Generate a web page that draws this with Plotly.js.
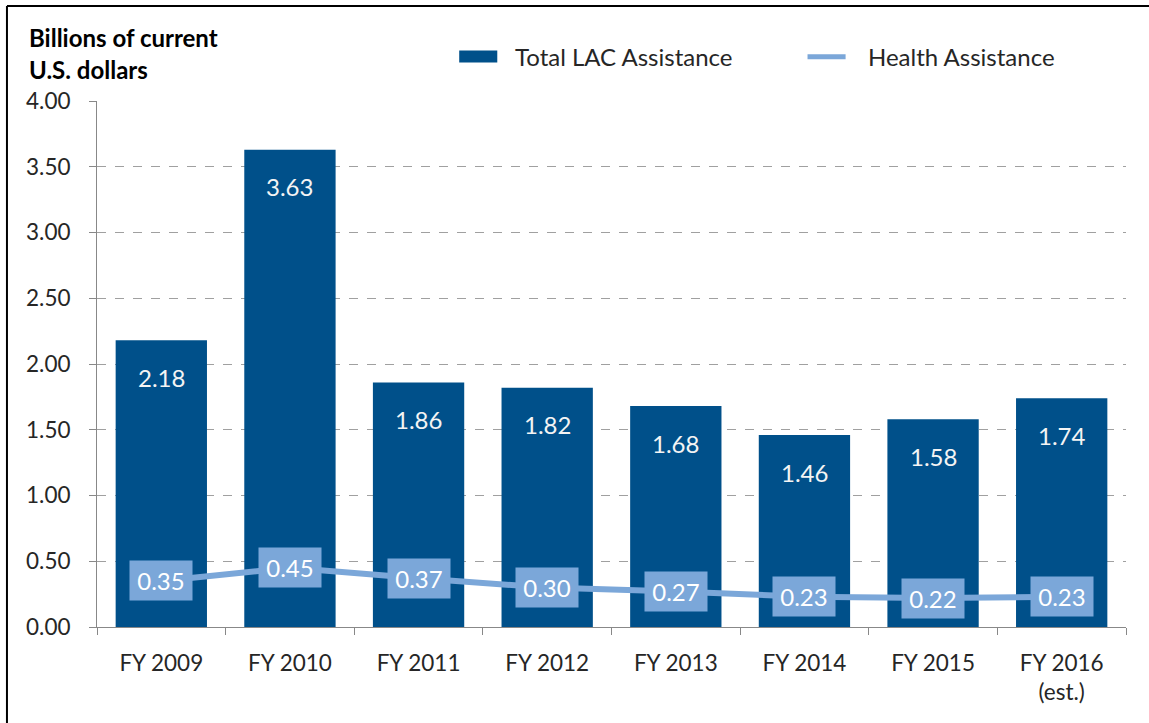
<!DOCTYPE html>
<html>
<head>
<meta charset="utf-8">
<script src="https://cdn.plot.ly/plotly-3.0.1.min.js"></script>
<style>
html,body{margin:0;padding:0;background:#fff;}
#chart{width:1149px;height:723px;}
</style>
</head>
<body>
<div id="chart"></div>
<script>
var categories = ["FY 2009", "FY 2010", "FY 2011", "FY 2012", "FY 2013", "FY 2014", "FY 2015", "FY 2016<br>(est.)"];
var totalLAC = [2.18, 3.63, 1.86, 1.82, 1.68, 1.46, 1.58, 1.74];
var health = [0.35, 0.45, 0.37, 0.30, 0.27, 0.23, 0.22, 0.23];
var yTicks = [0, 0.5, 1, 1.5, 2, 2.5, 3, 3.5, 4];
var yTickLabels = ["0.00", "0.50", "1.00", "1.50", "2.00", "2.50", "3.00", "3.50", "4.00"];

var FONT = "Lato, 'Open Sans', sans-serif";
var BAR = "#00508A";
var LINE = "#7BA7D9";

var traces = [
  {
    type: "bar", name: "Total LAC Assistance", x: categories, y: totalLAC,
    marker: {color: BAR}, hoverinfo: "skip", showlegend: false
  },
  {
    type: "scatter", mode: "lines", name: "Health Assistance", x: categories, y: health,
    line: {color: LINE, width: 6}, hoverinfo: "skip", showlegend: false
  }
];

var annotations = [];
categories.forEach(function (c, i) {
  annotations.push({
    x: c, y: totalLAC[i], xref: "x", yref: "y", text: totalLAC[i].toFixed(2),
    showarrow: false, yshift: -37, font: {family: FONT, size: 24, color: "#f4f4f4"}
  });
  annotations.push({
    x: c, y: health[i], xref: "x", yref: "y", text: health[i].toFixed(2),
    showarrow: false, bgcolor: LINE, borderpad: 5, width: 52,
    font: {family: FONT, size: 24, color: "#ffffff"}
  });
});

// y-axis title
annotations.push({
  xref: "paper", yref: "paper", x: -0.068, y: 1.12, xanchor: "left", yanchor: "middle",
  text: "<b>Billions of current</b>", showarrow: false, align: "left",
  font: {family: FONT, size: 24, color: "#000"}
});
annotations.push({
  xref: "paper", yref: "paper", x: -0.068, y: 1.059, xanchor: "left", yanchor: "middle",
  text: "<b>U.S. dollars</b>", showarrow: false, align: "left",
  font: {family: FONT, size: 24, color: "#000"}
});
// legend texts
annotations.push({
  xref: "paper", yref: "paper", x: 0.4045, y: 1.084, xanchor: "left", yanchor: "middle",
  text: "Total LAC Assistance", showarrow: false,
  font: {family: FONT, size: 24, color: "#262626"}
});
annotations.push({
  xref: "paper", yref: "paper", x: 0.7475, y: 1.084, xanchor: "left", yanchor: "middle",
  text: "Health Assistance", showarrow: false,
  font: {family: FONT, size: 24, color: "#262626"}
});

var shapes = [
  // legend swatches
  {type: "rect", xref: "paper", yref: "paper", x0: 0.352, x1: 0.389, y0: 1.073, y1: 1.096, fillcolor: BAR, line: {width: 0}},
  {type: "line", xref: "paper", yref: "paper", x0: 0.6905, x1: 0.7275, y0: 1.084, y1: 1.084, line: {color: LINE, width: 5}},
  // outer frame (top and left)
  {type: "line", xref: "paper", yref: "paper", x0: -0.0875, x1: 1.03, y0: 1.1806, y1: 1.1806, line: {color: "#000", width: 2}},
  {type: "line", xref: "paper", yref: "paper", x0: -0.0875, x1: -0.0875, y0: 1.1806, y1: -0.19, line: {color: "#000", width: 2}}
];

var layout = {
  width: 1149, height: 723,
  margin: {l: 97, r: 23, t: 101, b: 96},
  paper_bgcolor: "#ffffff", plot_bgcolor: "#ffffff",
  bargap: 0.29,
  showlegend: false,
  xaxis: {
    type: "category", tickson: "boundaries", ticks: "outside", ticklen: 7, tickcolor: "#888",
    showline: true, linecolor: "#888", linewidth: 1, showgrid: false,
    tickfont: {family: FONT, size: 22.5, color: "#262626"}, ticklabelstandoff: 16
  },
  yaxis: {
    range: [0, 4], tickvals: yTicks, ticktext: yTickLabels,
    ticks: "outside", ticklen: 7, tickcolor: "#888",
    showline: true, linecolor: "#888", linewidth: 1,
    showgrid: true, gridcolor: "#a0a0a0", griddash: "dash", gridwidth: 1,
    zeroline: false, ticklabelstandoff: 14,
    tickfont: {family: FONT, size: 22.5, color: "#262626"}
  },
  annotations: annotations,
  shapes: shapes
};

Plotly.newPlot("chart", traces, layout, {displayModeBar: false, staticPlot: true});
</script>
</body>
</html>
